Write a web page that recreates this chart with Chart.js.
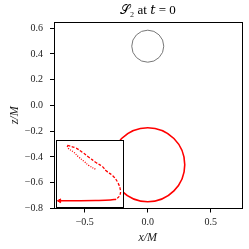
<!DOCTYPE html>
<html>
<head>
<meta charset="utf-8">
<script src="https://cdn.jsdelivr.net/npm/chart.js@4"></script>
<style>
  html, body { margin:0; padding:0; background:#fff; }
  #wrap { position:relative; width:249px; height:249px; }
  #inset { position:absolute; left:56px; top:140px; width:66px; height:66px; border:1px solid #000; background:#fff; }
</style>
</head>
<body>
<div id="wrap">
  <canvas id="main" width="249" height="249"></canvas>
  <div id="inset"><canvas id="zoomed" width="66" height="66"></canvas></div>
</div>
<script>
// ===== data (main axes, units of M) =====
const xTicks = [-0.5, 0, 0.5];
const yTicks = [-0.8, -0.6, -0.4, -0.2, 0, 0.2, 0.4, 0.6];
const horizonCentres = [{x: 0, y: 0.46}];    // grey circle (upper)
const redCentres = [{x: 0, y: -0.46}];       // red circle (lower)

// inset, in the inset's own 0..1 frame
const dashedX = [0.155, 0.280, 0.382, 0.482, 0.583, 0.685, 0.745, 0.845, 0.921, 0.962, 0.947, 0.897];
const dashedY = [0.932, 0.897, 0.830, 0.755, 0.679, 0.614, 0.548, 0.473, 0.371, 0.245, 0.170, 0.118];
const dottedX = [0.155, 0.179, 0.255, 0.330, 0.406, 0.482, 0.598];
const dottedY = [0.925, 0.882, 0.830, 0.755, 0.694, 0.629, 0.564];
const solidX = [0.897, 0.811, 0.583, 0.280, 0.038];
const solidY = [0.118, 0.105, 0.098, 0.095, 0.094];
const startX = [0.038], startY = [0.094];

const pts = (xs, ys) => xs.map((x, i) => ({x: x, y: ys[i]}));
const fmt = v => (v < 0 ? '\u2212' : '') + Math.abs(v).toFixed(1);
const serif = 'Liberation Serif, DejaVu Serif, serif';

// frame around the plot area
const frame = {
    id: 'frame',
    afterDraw(c){
        const a = c.chartArea, g = c.ctx;
        g.save();
        g.strokeStyle = '#000'; g.lineWidth = 1;
        g.strokeRect(Math.round(a.left)+0.5, Math.round(a.top)+0.5, Math.round(a.right-a.left), Math.round(a.bottom-a.top));
        g.restore();
    }
};

new Chart(document.getElementById('main'), {
    type: 'scatter',
    data: { datasets: [
        { data: horizonCentres, pointRadius: 16, pointHoverRadius: 16, pointBorderWidth: 1,
          pointBorderColor: '#777', pointBackgroundColor: 'rgba(0,0,0,0)' },
        { data: redCentres, pointRadius: 37, pointHoverRadius: 37, pointBorderWidth: 1.6,
          pointBorderColor: '#f00', pointBackgroundColor: 'rgba(0,0,0,0)' }
    ]},
    options: {
        responsive: false, animation: false, events: [],
        layout: { autoPadding: false, padding: { left: 0, right: 7.5, top: 0, bottom: 0 } },
        plugins: {
            legend: { display: false }, tooltip: { enabled: false },
            title: { display: true, fullSize: false, text: '\u{1D4AE}\u2082 at \u{1D461} = 0', color: '#000',
                     font: { family: serif, size: 13, weight: 'normal' }, padding: { top: 3, bottom: 3.5 } }
        },
        scales: {
            x: { type: 'linear', min: -0.744, max: 0.744,
                 afterFit: s => { s.height = 40.5; },
                 afterBuildTicks: s => { s.ticks = xTicks.map(v => ({value: v})); },
                 border: { display: false },
                 grid: { drawOnChartArea: false, drawTicks: true, tickLength: 4, color: '#000' },
                 ticks: { callback: fmt, color: '#222', padding: 4, maxRotation: 0, font: { family: serif, size: 10 } },
                 title: { display: true, text: 'x/M', color: '#222', padding: { top: 0, bottom: 4 },
                          font: { family: serif, size: 12, style: 'italic' } } },
            y: { type: 'linear', min: -0.80, max: 0.647,
                 afterFit: s => { s.width = 54; },
                 afterBuildTicks: s => { s.ticks = yTicks.map(v => ({value: v})); },
                 border: { display: false },
                 grid: { drawOnChartArea: false, drawTicks: true, tickLength: 4, color: '#000' },
                 ticks: { callback: fmt, color: '#222', padding: 7, font: { family: serif, size: 10 } },
                 title: { display: true, text: 'z/M', color: '#222', padding: { top: 8, bottom: 0 },
                          font: { family: serif, size: 12, style: 'italic' } } }
        }
    },
    plugins: [frame]
});

// inset
new Chart(document.getElementById('zoomed'), {
    type: 'scatter',
    data: { datasets: [
        { data: pts(dashedX, dashedY), showLine: true, borderColor: '#f00', borderWidth: 1.3,
          borderDash: [3, 1.6], pointRadius: 0, tension: 0.4 },
        { data: pts(dottedX, dottedY), showLine: true, borderColor: '#f00', borderWidth: 1.3,
          borderDash: [1, 1.4], pointRadius: 0, tension: 0.4 },
        { data: pts(solidX, solidY), showLine: true, borderColor: '#f00', borderWidth: 1.5,
          pointRadius: 0, tension: 0.4 },
        { data: pts(startX, startY), pointStyle: 'triangle', rotation: -90, pointRadius: 2.2,
          pointBackgroundColor: '#f00', pointBorderColor: '#f00', pointBorderWidth: 1 }
    ]},
    options: {
        responsive: false, animation: false, events: [],
        layout: { autoPadding: false, padding: 0 },
        plugins: { legend: { display: false }, tooltip: { enabled: false } },
        scales: {
            x: { type: 'linear', min: 0, max: 1, display: false },
            y: { type: 'linear', min: 0, max: 1, display: false }
        }
    }
});
</script>
</body>
</html>
